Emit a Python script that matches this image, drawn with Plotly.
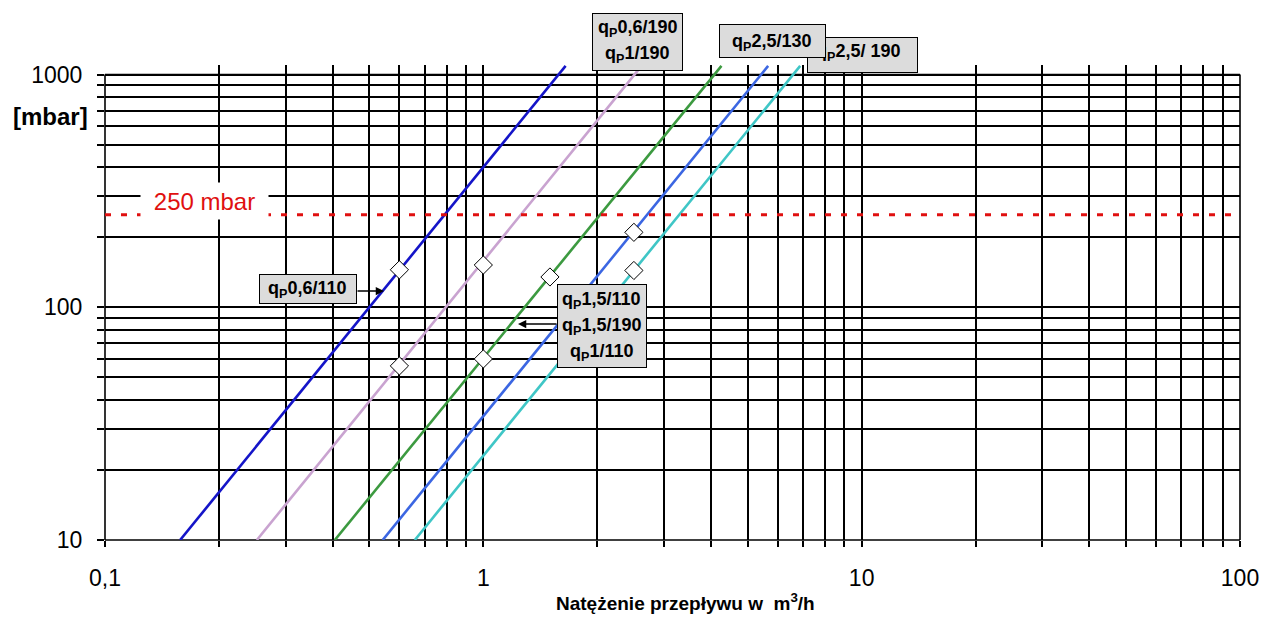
import plotly.graph_objects as go
import numpy as np

# ---- data ----
x_tick_vals = [v * m for m in (0.1, 1, 10) for v in range(1, 10)] + [100]
x_tick_text = ["0,1" if v == 0.1 else "1" if v == 1 else "10" if v == 10 else "100" if v == 100 else "" for v in x_tick_vals]
y_tick_vals = [v * m for m in (10, 100) for v in range(1, 10)] + [1000]
y_tick_text = ["10" if v == 10 else "100" if v == 100 else "1000" if v == 1000 else "" for v in y_tick_vals]

# straight lines in log-log: flow [m3/h] at endpoints, pressure loss [mbar]
line_y = [10, 1090]
dark_blue_x = [0.158, 1.65]   # qp0,6/110
pink_x = [0.252, 2.62]        # qp0,6/190, qp1/190
green_x = [0.405, 4.26]       # qp1,5/110, qp1,5/190, qp1/110
blue_x = [0.542, 5.66]        # qp2,5/130
cyan_x = [0.659, 6.88]        # qp2,5/190

marker_x = [0.6, 0.6, 1, 1, 1.5, 2.5, 2.5]
marker_y = [145, 56, 152, 60, 135, 210, 144]

limit_x = [0.1, 100]
limit_y = [250, 250]

FONT = "Arial, Liberation Sans, sans-serif"

# plot area in pixels
L, R, T, B = 105, 1240, 65, 540
def px(x):
    return (x - L) / (R - L)
def py(y):
    return (B - y) / (B - T)

# invisible padding after y tick labels (moves them away from the axis)
PAD = "<span style='font-size:18px;color:rgba(0,0,0,0)'>0</span>"
y_tick_text_shown = [t + PAD if t else "" for t in y_tick_text]

fig = go.Figure()

line_specs = [
    (dark_blue_x, "#1414c8"),
    (pink_x, "#c9a3d0"),
    (green_x, "#3c9a40"),
    (blue_x, "#3b66e2"),
    (cyan_x, "#3fc6c6"),
]
for xs, col in line_specs:
    fig.add_trace(go.Scatter(x=xs, y=line_y, mode="lines",
                             line=dict(color=col, width=2.6), hoverinfo="skip"))

fig.add_trace(go.Scatter(x=limit_x, y=limit_y, mode="lines",
                         line=dict(color="#e01010", width=3, dash="6px,10px"), hoverinfo="skip"))

fig.add_trace(go.Scatter(x=marker_x, y=marker_y, mode="markers",
                         marker=dict(symbol="diamond", size=14, color="white",
                                     line=dict(color="black", width=1)), hoverinfo="skip"))

y1000 = py(74.6)
shapes = [
    dict(type="rect", xref="paper", yref="paper", x0=-0.001, x1=1.01, y0=y1000, y1=1.0,
         fillcolor="white", line=dict(width=0), layer="between"),
    dict(type="line", xref="paper", yref="paper", x0=0, x1=1, y0=y1000, y1=y1000,
         line=dict(color="black", width=1.6), layer="between"),
    dict(type="line", xref="paper", yref="paper", x0=0, x1=0, y0=0, y1=y1000,
         line=dict(color="black", width=1.6), layer="between"),
    dict(type="line", xref="paper", yref="paper", x0=1, x1=1, y0=0, y1=y1000,
         line=dict(color="black", width=1.6), layer="between"),
    dict(type="line", xref="paper", yref="paper", x0=0, x1=1, y0=0, y1=0,
         line=dict(color="black", width=1.6), layer="between"),
]

annotations = []

def box(cx, cy, w, h):
    annotations.append(dict(xref="paper", yref="paper", x=px(cx), y=py(cy),
                            text="\u00a0", showarrow=False, width=w, height=h,
                            bgcolor="#dcdcdc", bordercolor="black", borderwidth=1,
                            borderpad=0, xanchor="center", yanchor="middle"))

def label(cx, cy, text, size=18):
    annotations.append(dict(xref="paper", yref="paper", x=px(cx), y=py(cy),
                            text="<b>" + text + "</b>", showarrow=False,
                            font=dict(family=FONT, size=size, color="black"),
                            xanchor="center", yanchor="middle"))

QP = "q<sub>P</sub>"

# box A
box(637.5, 42, 89, 56)
label(637, 29, QP + "0,6/190")
label(637, 54, QP + "1/190")
# box C (under B)
box(862.5, 55, 109, 34)
label(858, 52, QP + "2,5/ 190")
# box B
box(772.5, 41, 105, 32)
label(771, 42, QP + "2,5/130")
# box D
box(308, 289, 96, 28)
label(307, 289, QP + "0,6/110")
# box E
box(602, 326, 88, 82)
label(601, 300, QP + "1,5/110")
label(601, 326, QP + "1,5/190")
label(601, 352, QP + "1/110")

# arrows
annotations.append(dict(xref="paper", yref="paper", x=px(384), y=py(291), text="",
                        showarrow=True, ax=-28, ay=0, arrowhead=2, arrowsize=1.1,
                        arrowwidth=1.5, arrowcolor="black", standoff=0))
annotations.append(dict(xref="paper", yref="paper", x=px(518), y=py(324), text="",
                        showarrow=True, ax=40, ay=0, arrowhead=2, arrowsize=1.1,
                        arrowwidth=1.5, arrowcolor="black", standoff=0))

# 250 mbar label with white background
annotations.append(dict(xref="paper", yref="paper", x=px(204), y=py(201),
                        text="250 mbar", showarrow=False, width=127, height=36,
                        bgcolor="white", borderpad=0,
                        font=dict(family=FONT, size=24, color="#e01010"),
                        xanchor="center", yanchor="middle"))

# y unit
annotations.append(dict(xref="paper", yref="paper", x=px(50), y=py(116),
                        text="<b>[mbar]</b>", showarrow=False,
                        font=dict(family=FONT, size=24, color="black"),
                        xanchor="center", yanchor="middle"))

# x title
annotations.append(dict(xref="paper", yref="paper", x=px(685), y=py(602),
                        text="<b>Natężenie przepływu w\u00a0 m<sup>3</sup>/h</b>", showarrow=False,
                        font=dict(family=FONT, size=19, color="black"),
                        xanchor="center", yanchor="middle"))

fig.update_layout(
    width=1264, height=622,
    margin=dict(l=L, r=1264 - R, t=T, b=622 - B, autoexpand=False),
    paper_bgcolor="white", plot_bgcolor="white",
    showlegend=False,
    shapes=shapes, annotations=annotations,
    font=dict(family=FONT, size=23, color="black"),
)
fig.update_xaxes(type="log", range=[-1, 2], tickvals=x_tick_vals, ticktext=x_tick_text,
                 showgrid=True, gridcolor="black", gridwidth=1.5, automargin=False,
                 ticks="outside", ticklen=6, tickwidth=1.5, tickcolor="black",
                 ticklabelstandoff=11, zeroline=False, showline=False,
                 tickfont=dict(family=FONT, size=23, color="black"))
fig.update_yaxes(type="log", range=[1, np.log10(1100)], tickvals=y_tick_vals, ticktext=y_tick_text_shown,
                 showgrid=True, gridcolor="black", gridwidth=1.5, automargin=False,
                 ticks="outside", ticklen=7, tickwidth=1.5, tickcolor="black",
                 zeroline=False, showline=False,
                 tickfont=dict(family=FONT, size=23, color="black"))

fig.write_html("out.html", config={"displayModeBar": False},
               post_script="document.body.style.margin='0';document.body.style.overflow='hidden';")
